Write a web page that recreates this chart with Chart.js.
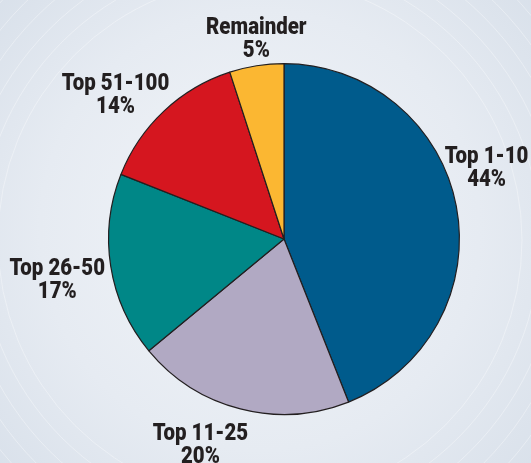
<!DOCTYPE html>
<html>
<head>
<meta charset="utf-8">
<script src="https://cdn.jsdelivr.net/npm/chart.js@4.4.1/dist/chart.umd.min.js"></script>
<style>
  html, body { margin: 0; padding: 0; }
  body { width: 531px; height: 463px; overflow: hidden; }
  #wrap { position: relative; width: 531px; height: 463px; }
</style>
</head>
<body>
<div id="wrap"><canvas id="pie"></canvas></div>
<script>
// Datos del gráfico
const categories = ['Top 1-10', 'Top 11-25', 'Top 26-50', 'Top 51-100', 'Remainder'];
const shares = [44, 20, 17, 14, 5];
const sliceColors = ['#005b8c', '#b1a9c3', '#008787', '#d5161f', '#fbb732'];

// Ajuste fino de las etiquetas (px) respecto a la posición radial
const labelNudge = [[-9, -30], [-30, -2], [-14, 8], [-21, 14], [6, 13]];

const backdrop = {
    id: 'backdrop',
    beforeDraw(chart) {
        const ctx = chart.ctx;
        const w = chart.width, h = chart.height;
        ctx.save();
        const g = ctx.createRadialGradient(250, 220, 20, 270, 240, 420);
        g.addColorStop(0, '#f1f4f8');
        g.addColorStop(0.5, '#e6ebf2');
        g.addColorStop(1, '#d3dce7');
        ctx.fillStyle = g;
        ctx.fillRect(0, 0, w, h);
        // anillos tenues
        ctx.strokeStyle = 'rgba(255,255,255,0.35)';
        ctx.lineWidth = 1;
        [262, 280, 298, 316, 334, 352].forEach(r => {
            ctx.beginPath();
            ctx.arc(260, 240, r, 0, Math.PI * 2);
            ctx.stroke();
        });
        ctx.restore();
    }
};

const outerLabels = {
    id: 'outerLabels',
    afterDatasetsDraw(chart) {
        const ctx = chart.ctx;
        const meta = chart.getDatasetMeta(0);
        ctx.save();
        ctx.fillStyle = '#231f20';
        ctx.font = "900 22px Roboto, 'DejaVu Sans', sans-serif";
        ctx.textAlign = 'center';
        ctx.textBaseline = 'middle';
        meta.data.forEach((arc, i) => {
            const p = arc.getProps(['x', 'y', 'startAngle', 'endAngle', 'outerRadius'], true);
            const mid = (p.startAngle + p.endAngle) / 2;
            const d = p.outerRadius + 40;
            const x = p.x + Math.cos(mid) * d + labelNudge[i][0];
            const y = p.y + Math.sin(mid) * d + labelNudge[i][1];
            ctx.save();
            ctx.translate(x, y);
            ctx.scale(0.93, 1.08);
            ctx.fillText(categories[i], 0, -10.7);
            ctx.fillText(shares[i] + '%', 0, 10.7);
            ctx.restore();
        });
        ctx.restore();
    }
};

new Chart(document.getElementById('pie'), {
    type: 'pie',
    data: {
        labels: categories,
        datasets: [{
            data: shares,
            backgroundColor: sliceColors,
            borderColor: '#231f20',
            borderWidth: 1.2
        }]
    },
    options: {
        responsive: true,
        maintainAspectRatio: false,
        animation: false,
        layout: { padding: { left: 108, right: 71, top: 63, bottom: 48 } },
        plugins: {
            legend: { display: false },
            tooltip: { enabled: false }
        }
    },
    plugins: [backdrop, outerLabels]
});
</script>
</body>
</html>
